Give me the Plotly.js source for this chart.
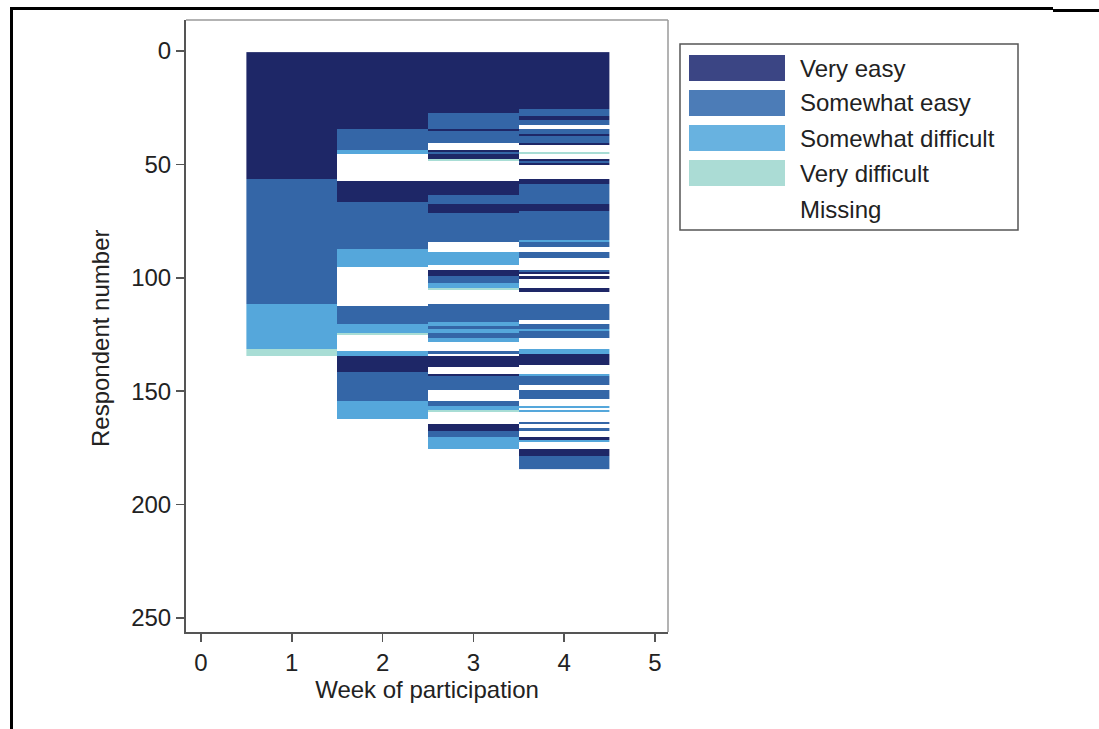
<!DOCTYPE html>
<html>
<head>
<meta charset="utf-8">
<script src="https://cdn.plot.ly/plotly-3.0.1.min.js"></script>
<style>
html,body{margin:0;padding:0;background:#fff;}
#chart{width:1099px;height:729px;}
</style>
</head>
<body>
<div id="chart"></div>
<script>
// ---- Data ----
const weeks = [1, 2, 3, 4];
const categories = ["Very easy", "Somewhat easy", "Somewhat difficult", "Very difficult", "Missing"];
const xTicks = [0, 1, 2, 3, 4, 5];
const yTicks = [0, 50, 100, 150, 200, 250];
const nRespondents = 184;

// runs of [first respondent, last respondent, category code]; 1=Very easy ... 4=Very difficult; unlisted = Missing
const week1Runs = [[1,56,1],[57,111,2],[112,131,3],[132,134,4]];
const week2Runs = [[1,34,1],[35,43,2],[44,45,3],[58,66,1],[67,87,2],[88,95,3],[113,120,2],[121,124,3],[125,125,4],
  [133,134,3],[135,141,1],[142,154,2],[155,162,3]];
const week3Runs = [[1,27,1],[28,34,2],[35,35,1],[36,40,2],[44,44,1],[45,45,2],[46,47,1],[48,48,4],[58,63,1],[64,67,2],
  [68,71,1],[72,84,2],[89,94,3],[97,99,1],[100,102,2],[103,104,3],[105,105,4],[112,119,2],[120,121,3],[122,122,2],
  [123,124,3],[125,126,2],[127,128,3],[133,133,2],[135,139,1],[143,143,1],[144,149,2],[155,156,2],[157,158,3],
  [159,159,4],[165,167,1],[168,170,2],[171,175,3]];
const week4Runs = [[1,25,1],[26,28,2],[29,30,1],[31,32,2],[35,36,2],[37,37,1],[38,40,2],[41,41,1],[45,45,4],[48,48,1],
  [49,49,2],[50,50,1],[57,58,1],[59,67,2],[68,70,1],[71,83,2],[84,84,3],[85,86,2],[89,91,2],[97,97,2],[98,98,1],
  [100,100,1],[105,106,1],[112,118,2],[121,122,2],[123,123,3],[124,126,2],[132,133,3],[134,138,1],[143,143,3],
  [144,147,2],[150,153,2],[157,157,3],[159,159,3],[164,164,2],[167,167,2],[171,171,1],[172,172,3],[176,178,1],[179,184,2]];

// ---- Styles ----
const cellColors = ["#1e2767", "#3466a7", "#55a7db", "#a8ddd5"];
const swatchColors = ["#3b4584", "#4c7cb7", "#68b2e0", "#abdcd5"];
const FONT = "Liberation Sans, Arial, Helvetica, sans-serif";
const TXT = "#222222";

// ---- Build matrix ----
const respondents = Array.from({length: nRespondents}, (_, i) => i + 1);
const z = respondents.map(() => weeks.map(() => null));
[week1Runs, week2Runs, week3Runs, week4Runs].forEach((runs, w) => {
  runs.forEach(([s, e, c]) => { for (let r = s; r <= e; r++) z[r - 1][w] = c; });
});

const colorscale = [];
cellColors.forEach((c, i) => { colorscale.push([i / 4, c]); colorscale.push([(i + 1) / 4, c]); });

const trace = {
  type: "heatmap", x: weeks, y: respondents, z: z,
  zmin: 0.5, zmax: 4.5, colorscale: colorscale, showscale: false,
  hoverongaps: false
};

// plot area in pixels
const L = 186, R = 668, T = 20, B = 632;
const px = x => (x - L) / (R - L);
const py = y => (B - y) / (B - T);

const shapes = [
  // plot frame top & right (light)
  {type:"line", xref:"paper", yref:"paper", x0:0, x1:1, y0:1, y1:1, line:{color:"#9a9a9a", width:1.5}},
  {type:"line", xref:"paper", yref:"paper", x0:1, x1:1, y0:0, y1:1, line:{color:"#9a9a9a", width:1.5}},
  // outer black frame
  {type:"line", xref:"paper", yref:"paper", x0:px(10), x1:px(1053), y0:py(8.5), y1:py(8.5), line:{color:"#000", width:3}},
  {type:"line", xref:"paper", yref:"paper", x0:px(1053), x1:px(1099), y0:py(10.5), y1:py(10.5), line:{color:"#000", width:3}},
  {type:"line", xref:"paper", yref:"paper", x0:px(11.5), x1:px(11.5), y0:py(7), y1:py(729), line:{color:"#000", width:3}},
  // legend box
  {type:"rect", xref:"paper", yref:"paper", x0:px(680), x1:px(1018), y0:py(230), y1:py(44), line:{color:"#555", width:1.5}, fillcolor:"#fff"}
];
const annotations = [];
const rowCenters = [68, 103, 138, 173, 209];
categories.forEach((cat, i) => {
  const yc = rowCenters[i];
  if (i < 4) {
    shapes.push({type:"rect", xref:"paper", yref:"paper", x0:px(689), x1:px(785), y0:py(yc + 13), y1:py(yc - 13),
      line:{width:0}, fillcolor:swatchColors[i]});
  }
  annotations.push({xref:"paper", yref:"paper", x:px(798), y:py(yc), xanchor:"left", yanchor:"middle",
    text:cat, showarrow:false, font:{family:FONT, size:24, color:TXT}});
});
// y-axis title
annotations.push({xref:"paper", yref:"paper", x:px(101), y:py(339), xanchor:"center", yanchor:"middle",
  textangle:-90, text:"Respondent number", showarrow:false, font:{family:FONT, size:24, color:TXT}});

const axisCommon = {
  ticks:"outside", ticklen:8, tickwidth:1.5, tickcolor:"#555",
  showline:true, linecolor:"#555", linewidth:2,
  showgrid:false, zeroline:false,
  tickfont:{family:FONT, size:24, color:TXT}
};

const layout = {
  width:1099, height:729,
  margin:{l:L, r:1099 - R, t:T, b:729 - B},
  paper_bgcolor:"#fff", plot_bgcolor:"#fff",
  showlegend:false,
  xaxis:Object.assign({}, axisCommon, {
    range:[-0.165, 5.143], tickmode:"array", tickvals:xTicks, ticktext:xTicks.map(String),
    title:{text:"Week of participation", font:{family:FONT, size:24, color:TXT}, standoff:4}
  }),
  yaxis:Object.assign({}, axisCommon, {
    range:[256.2, -13.67], tickmode:"array", tickvals:yTicks, ticktext:yTicks.map(String)
  }),
  shapes:shapes, annotations:annotations
};

Plotly.newPlot("chart", [trace], layout, {displayModeBar:false, staticPlot:true});
</script>
</body>
</html>
